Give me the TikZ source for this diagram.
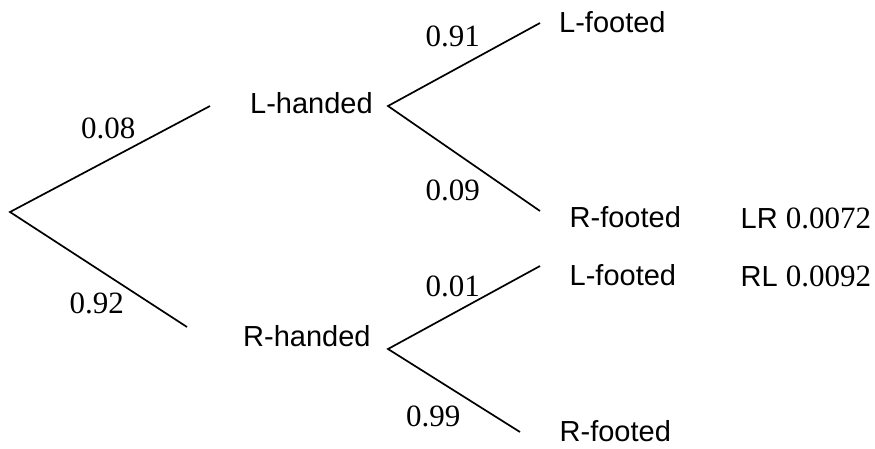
\documentclass[tikz,border=0pt]{standalone}
\usepackage{fontspec}
\setmainfont{Liberation Serif}
\newfontfamily\arialf{Liberation Sans}
\begin{document}
\begin{tikzpicture}[x=1pt,y=-1pt,
  word/.style={anchor=base west,inner sep=0pt,font=\arialf\fontsize{29}{33}\selectfont},
  prob/.style={anchor=base west,inner sep=0pt,font=\fontsize{31}{35}\selectfont},
  branch/.style={line width=1.7pt}]
\useasboundingbox (0,0) rectangle (875,448);
% branch points and ends
\coordinate (root) at (10,212);
\coordinate (lhEnd) at (210,106);
\coordinate (rhEnd) at (187,327);
\coordinate (lhV) at (388,106);
\coordinate (lhU) at (540,23);
\coordinate (lhD) at (540,211);
\coordinate (rhV) at (388,349);
\coordinate (rhU) at (540,266);
\coordinate (rhD) at (520,432);
\draw[branch] (lhEnd) -- (root) -- (rhEnd);
\draw[branch] (lhU) -- (lhV) -- (lhD);
\draw[branch] (rhU) -- (rhV) -- (rhD);
% outcome labels
\node[word] (lhanded) at (250,113) {L-handed};
\node[word] (rhanded) at (243,346.7) {R-handed};
\node[word] (lf1) at (559,32.3) {L-footed};
\node[word] (rf1) at (569.5,227.3) {R-footed};
\node[word] (lf2) at (569.5,285) {L-footed};
\node[word] (rf2) at (559.5,441.5) {R-footed};
\node[word] (lr) at (740.5,228.3) {LR \rmfamily\fontsize{31}{35}\selectfont 0.0072};
\node[word] (rl) at (740.5,286.7) {RL \rmfamily\fontsize{31}{35}\selectfont 0.0092};
% probabilities
\node[prob] (p08) at (81,138.3) {0.08};
\node[prob] (p92) at (69.5,313.3) {0.92};
\node[prob] (p91) at (425.5,46.7) {0.91};
\node[prob] (p09) at (425.5,200) {0.09};
\node[prob] (p01) at (425.5,296.7) {0.01};
\node[prob] (p99) at (406,426.7) {0.99};
\end{tikzpicture}
\end{document}
